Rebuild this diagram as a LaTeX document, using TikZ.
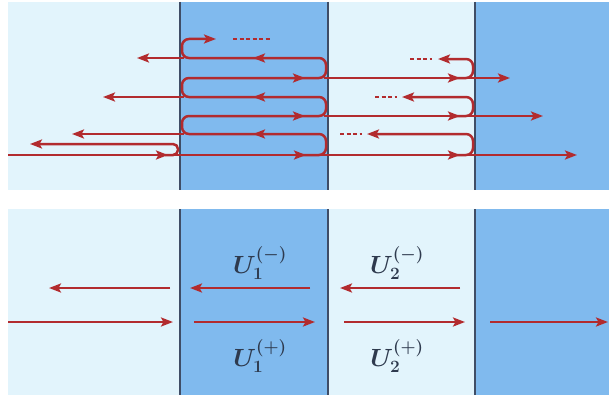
\documentclass[tikz,border=0pt]{standalone}
\usepackage{amsmath,amssymb}
\usepackage{xcolor}
\usepackage{tikz}
\usetikzlibrary{arrows.meta}
\definecolor{raycol}{HTML}{B22B2E}
\definecolor{lightbg}{HTML}{E2F4FC}
\definecolor{layerbg}{HTML}{80BAEE}
\definecolor{ifacec}{HTML}{3F4D66}
\definecolor{labc}{HTML}{2E3A4E}
\tikzset{
  ray/.style={raycol,line width=2.5pt},
  rayar/.style={-{Stealth[length=12pt,width=9pt,inset=2.5pt]},raycol,line width=2.5pt},
  loop/.style={raycol,line width=2.5pt,rounded corners=7pt},
  dots/.style={raycol,line width=2.5pt,dash pattern=on 4pt off 2.5pt},
  iface/.style={ifacec,line width=1.1pt},
  lab/.style={labc,font=\fontsize{24}{28}\selectfont\boldmath}
}
\newcommand{\rtip}[2]{\draw[rayar] (#1-14,#2)--(#1,#2);}
\newcommand{\ltip}[2]{\draw[rayar] (#1+14,#2)--(#1,#2);}

\begin{document}
\begin{tikzpicture}[x=1pt,y=-1pt]
\useasboundingbox (0,0) rectangle (609,396);
\fill[white] (0,0) rectangle (609,396);
\foreach \ya/\yb in {2/190,209/395}{
  \fill[lightbg] (8,\ya) rectangle (180,\yb);
  \fill[layerbg] (180,\ya) rectangle (328,\yb);
  \fill[lightbg] (328,\ya) rectangle (475,\yb);
  \fill[layerbg] (475,\ya) rectangle (609,\yb);
  \foreach \x in {180,328,475} \draw[iface] (\x,\ya)--(\x,\yb);
}
% multiple reflections
\draw[rayar] (8,155)--(577,155);
\rtip{168}{155} \rtip{306}{155} \rtip{460}{155}
\draw[loop,rounded corners=5pt,rayar] (165,155)--(178,155)--(178,144)--(30,144);
\draw[loop] (300,155)--(326,155)--(326,134)--(182,134)--(182,116)--(326,116)--(326,97)--(182,97)--(182,78)--(326,78)--(326,58)--(182,58)--(182,39)--(205,39);
\rtip{216}{39}
\ltip{253}{134} \ltip{253}{97} \ltip{253}{58}
\rtip{305}{116} \rtip{305}{78}
\draw[rayar] (184,134)--(72,134);
\draw[rayar] (184,97)--(103,97);
\draw[rayar] (184,58)--(137,58);
\draw[rayar] (324,116)--(543,116); \rtip{460}{116}
\draw[rayar] (324,78)--(510,78); \rtip{460}{78}
\draw[loop,rayar] (455,155)--(473,155)--(473,134)--(367,134);
\draw[loop,rayar] (455,116)--(473,116)--(473,97)--(402,97);
\draw[loop,rayar] (455,78)--(473,78)--(473,59)--(438,59);
\draw[dots] (233,39)--(270,39);
\draw[dots] (340,134)--(362,134);
\draw[dots] (375,97)--(397,97);
\draw[dots] (410,59)--(432,59);
% resulting waves
\draw[rayar] (170,288)--(49,288);
\draw[rayar] (8,322)--(173,322);
\draw[rayar] (310,288)--(190,288);
\draw[rayar] (194,322)--(315,322);
\draw[rayar] (460,288)--(340,288);
\draw[rayar] (344,322)--(465,322);
\draw[rayar] (490,322)--(608,322);
\node[lab] (u1m) at (260,263) {$U_1^{(-)}$};
\node[lab] (u1p) at (260,356) {$U_1^{(+)}$};
\node[lab] (u2m) at (397,263) {$U_2^{(-)}$};
\node[lab] (u2p) at (397,356) {$U_2^{(+)}$};
\end{tikzpicture}
\end{document}
